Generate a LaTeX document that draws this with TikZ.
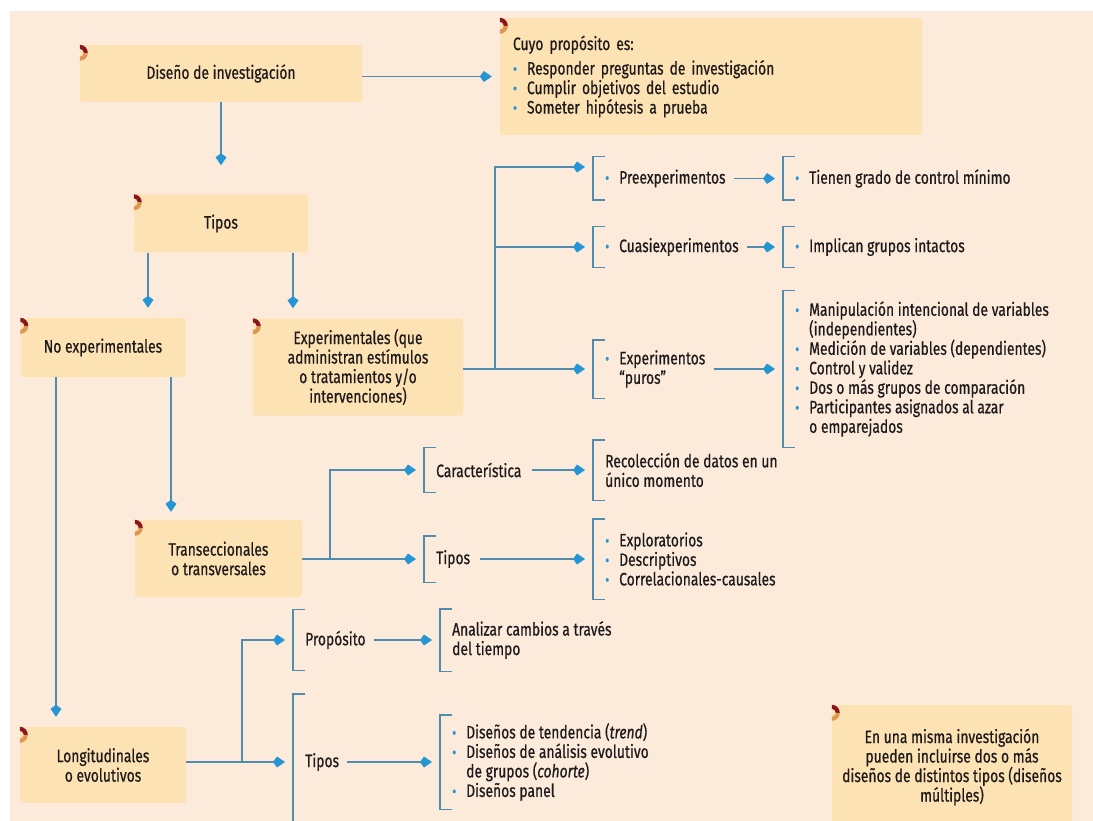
\documentclass[tikz,border=0pt]{standalone}
\usepackage{fontspec}
\setmainfont{Fira Sans}[FakeStretch=0.77, FakeBold=0.6]
\usepackage{graphicx}
\usetikzlibrary{arrows.meta}
\definecolor{bgpeach}{RGB}{252,235,218}
\definecolor{boxfill}{RGB}{253,226,180}
\definecolor{linecol}{RGB}{78,140,176}
\definecolor{tipcol}{RGB}{36,150,214}
\definecolor{txt}{RGB}{30,26,28}
\definecolor{tagred}{RGB}{140,20,30}
\definecolor{tagorange}{RGB}{222,150,80}
\newcommand{\bul}{\makebox[14pt][l]{\textcolor{tipcol}{\scalebox{0.9}{\textbullet}}}}
\newcommand{\nobul}{\hspace*{14pt}}
\newcommand{\tagbox}[1]{%
  \fill[tagred] ([yshift=-8]#1.north west) ++(0,-8) arc[start angle=-90,end angle=0,radius=8]
    -- ++(-4,0) arc[start angle=0,end angle=-90,radius=4] -- cycle;
  \fill[tagorange] ([yshift=-8]#1.north west) ++(8,0) arc[start angle=0,end angle=90,radius=8]
    -- ++(0,-4) arc[start angle=90,end angle=0,radius=4] -- cycle;}
\newcommand{\brk}[1]{%
  \draw[linecol, line width=1.4pt] ([xshift=12]#1.north west) -- (#1.north west)
    -- (#1.south west) -- ([xshift=12]#1.south west);}

\begin{document}
\begin{tikzpicture}[x=1pt, y=-1pt, font=\fontsize{18}{19.5}\selectfont, text=txt,
  box/.style={fill=boxfill, rounded corners=3pt, inner sep=0pt, align=center},
  grp/.style={anchor=west, inner xsep=12pt, inner ysep=0pt, align=left},
  link/.style={draw=linecol, line width=1.6pt, shorten >=8pt,
    -{Kite[length=12pt,width=11pt,inset=4pt,color=tipcol]}}]
  \useasboundingbox (0,0) rectangle (1093,821);
  \fill[white] (0,0) rectangle (1093,821);
  \fill[bgpeach] (10,11) rectangle (1093,821);

  \node[box, minimum width=282pt, minimum height=57pt] (dis) at (221,73.5) {Diseño de investigación};
  \node[box, minimum width=422pt, minimum height=117pt, text width=396pt, align=left] (cuyo) at (711,76.5)
    {Cuyo propósito es:\\[5pt]\bul Responder preguntas de investigación\\\bul Cumplir objetivos del estudio\\\bul Someter hipótesis a prueba};
  \node[box, minimum width=174pt, minimum height=58pt] (tipos) at (221,223.5) {Tipos};
  \node[box, minimum width=165pt, minimum height=59pt] (noexp) at (103,347.5) {No experimentales};
  \node[box, minimum width=210pt, minimum height=97pt] (exper) at (358,367)
    {Experimentales (que\\administran estímulos\\o tratamientos y/o\\intervenciones)};
  \node[box, minimum width=167pt, minimum height=77pt] (trans) at (218.5,558.5) {Transeccionales\\o transversales};
  \node[box, minimum width=166pt, minimum height=76pt] (longi) at (103,765) {Longitudinales\\o evolutivos};
  \node[box, minimum width=240pt, minimum height=124pt] (nota) at (952,767)
    {En una misma investigación\\pueden incluirse dos o más\\diseños de distintos tipos (diseños\\múltiples)};
  \foreach \b in {dis,cuyo,tipos,noexp,exper,trans,longi,nota} {\tagbox{\b}}

  \node[grp, minimum height=43pt] (gpre) at (593,178.5) {\bul Preexperimentos};
  \node[grp, minimum height=43pt] (gpre2) at (783,178.5) {\bul Tienen grado de control mínimo};
  \node[grp, minimum height=41pt] (gcua) at (593,247) {\bul Cuasiexperimentos};
  \node[grp, minimum height=41pt] (gcua2) at (783,247) {\bul Implican grupos intactos};
  \node[grp, minimum height=58pt] (gpur) at (593,369) {\bul Experimentos\\\nobul “puros”};
  \node[grp, minimum height=156pt] (gpur2) at (783,369)
    {\bul Manipulación intencional de variables\\\nobul (independientes)\\\bul Medición de variables (dependientes)\\\bul Control y validez\\\bul Dos o más grupos de comparación\\\bul Participantes asignados al azar\\\nobul o emparejados};
  \node[grp, minimum height=45pt] (gcar) at (424,470) {Característica};
  \node[grp, minimum height=60pt] (gcar2) at (593,470) {Recolección de datos en un\\único momento};
  \node[grp, minimum height=46pt] (gtt) at (424,559) {Tipos};
  \node[grp, minimum height=80pt] (gtt2) at (593,559) {\bul Exploratorios\\\bul Descriptivos\\\bul Correlacionales-causales};
  \node[grp, minimum height=61pt] (gprop) at (293,640) {Propósito};
  \node[grp, minimum height=62pt] (gan) at (440,640) {Analizar cambios a través\\del tiempo};
  \node[grp, minimum height=136pt] (glt) at (293,762) {Tipos};
  \node[grp, minimum height=94pt] (glt2) at (440,762)
    {\bul Diseños de tendencia (\textit{trend})\\\bul Diseños de análisis evolutivo\\\nobul de grupos (\textit{cohorte})\\\bul Diseños panel};
  \foreach \g in {gpre,gpre2,gcua,gcua2,gpur,gpur2,gcar,gcar2,gtt,gtt2,gprop,gan,glt,glt2} {\brk{\g}}

  \coordinate (tl) at ([xshift=-73]tipos.south);
  \coordinate (tr) at ([xshift=72]tipos.south);
  \coordinate (nl) at ([xshift=-47]noexp.south);
  \coordinate (nr) at ([xshift=68]noexp.south);
  \coordinate (jx) at (495,369);
  \coordinate (jt) at (330,559);
  \coordinate (jl) at (242,762);

  \draw[link] (dis.east |- cuyo.west) -- (cuyo.west);
  \draw[link, shorten >=29pt] (dis.south) -- (tipos.north);
  \draw[link, shorten >=10pt] (tl) -- (tl |- noexp.north);
  \draw[link, shorten >=10pt] (tr) -- (tr |- exper.north);
  \draw[link, shorten >=10pt] (nl) -- (nl |- longi.north);
  \draw[link] (nr) -- (nr |- trans.north);

  \draw[link] (exper.east |- gpur.west) -- (gpur.west);
  \draw[link] (jx) |- ([yshift=11.5]gpre.west);
  \draw[link] (jx) |- (gcua.west);
  \draw[link, shorten <=-4pt] (gpre.east) -- (gpre2.west);
  \draw[link, shorten <=-4pt] (gcua.east) -- (gcua2.west);
  \draw[link, shorten <=-4pt] (gpur.east) -- (gpur2.west);

  \draw[link] (trans.east |- gtt.west) -- (gtt.west);
  \draw[link] (jt) |- (gcar.west);
  \draw[link, shorten <=-2pt] (gcar.east) -- (gcar2.west);
  \draw[link, shorten <=-2pt] (gtt.east) -- (gtt2.west);

  \draw[link] (longi.east |- glt.west) -- (glt.west);
  \draw[link] (jl) |- (gprop.west);
  \draw[link, shorten <=-4pt] (gprop.east) -- (gan.west);
  \draw[link, shorten <=-4pt] (glt.east) -- (glt2.west);
\end{tikzpicture}
\end{document}
